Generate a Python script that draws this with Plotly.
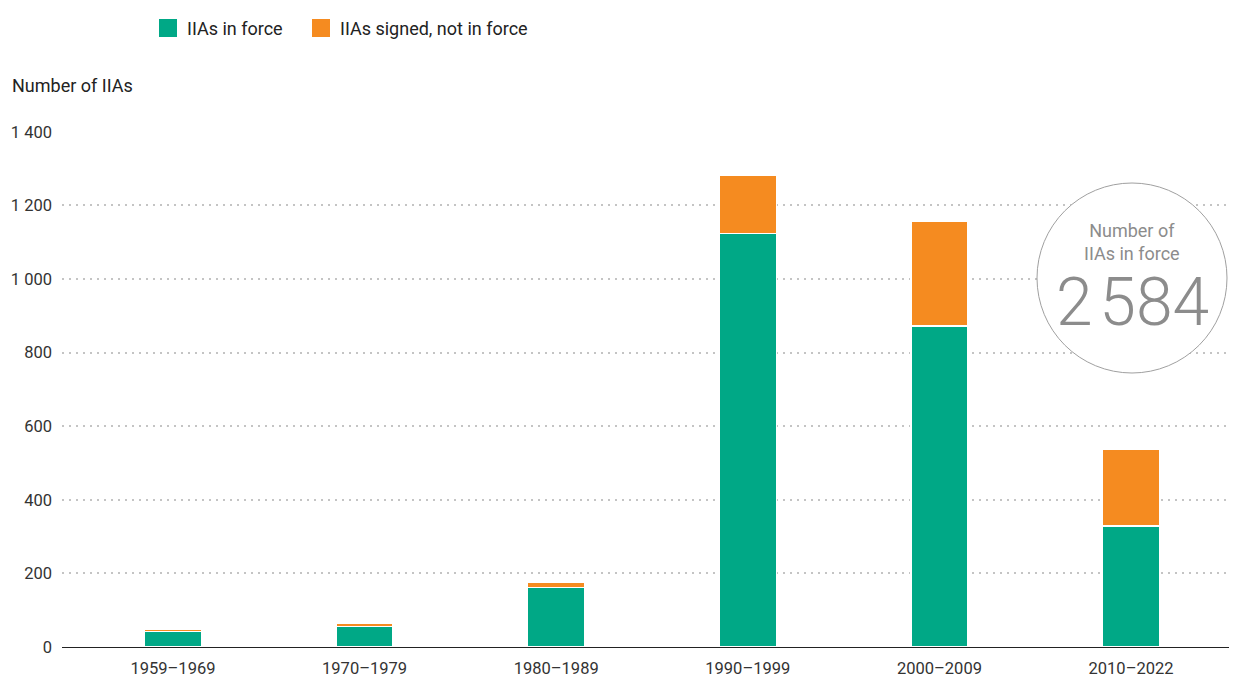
import plotly.graph_objects as go

periods = ['1959–1969', '1970–1979', '1980–1989', '1990–1999', '2000–2009', '2010–2022']
in_force = [42, 56, 161, 1124, 872, 329]
signed_not_in_force = [6, 8, 14, 157, 284, 209]
y_ticks = [0, 200, 400, 600, 800, 1000, 1200, 1400]
series_names = ['IIAs in force', 'IIAs signed, not in force']
total_in_force = '2\u200a584'

green = '#00A886'
orange = '#F58B20'
grey_txt = '#8c8c8c'
family = 'Roboto, sans-serif'

fig = go.Figure()
fig.add_trace(go.Bar(
    x=periods, y=in_force, name=series_names[0],
    marker=dict(color=green, line=dict(color='white', width=1.5)),
))
fig.add_trace(go.Bar(
    x=periods, y=signed_not_in_force, name=series_names[1],
    marker=dict(color=orange, line=dict(color='white', width=1.5)),
))

fig.update_xaxes(
    range=[-0.579, 5.553],
    showgrid=False,
    showline=False,
    ticks='',
    automargin=False,
    ticklabelstandoff=9,
    tickfont=dict(size=16.5, color='#333333'),
)
fig.update_yaxes(
    range=[0, 1402],
    tickvals=y_ticks,
    tickformat=',',
    showgrid=True,
    gridcolor='#c4c4c4',
    gridwidth=2,
    griddash='2px,5px',
    zeroline=True,
    zerolinecolor='#222222',
    zerolinewidth=1,
    ticks='',
    automargin=False,
    ticklabelstandoff=9,
    tickfont=dict(size=16.5, color='#333333'),
)

# paper coords: plot area is 1175 x 516 px, starting 54 px from the left and 123 px from the top
def px(xp):
    return (xp - 54) / 1175

def py(yp):
    return (639 - yp) / 516

# hand-made legend (bigger swatches than plotly's)
for (x0, x1, tx), col, name in zip([(151, 169, 177), (304, 322, 330)], [green, orange], series_names):
    fig.add_shape(type='rect', xref='paper', yref='paper', x0=px(x0), x1=px(x1), y0=py(29), y1=py(11),
                  fillcolor=col, line=dict(width=0))
    fig.add_annotation(xref='paper', yref='paper', x=px(tx), y=py(20), xanchor='left', yanchor='middle',
                       text=name, showarrow=False, font=dict(family=family, size=18, color='#222222'))

# circle callout with total in force
fig.add_shape(type='circle', xref='paper', yref='paper',
              x0=px(1029), x1=px(1219), y0=py(365), y1=py(175),
              line=dict(color='#a0a0a0', width=1), fillcolor='white', layer='above')
fig.add_annotation(xref='paper', yref='paper', x=px(1124), y=py(234),
                   xanchor='center', yanchor='middle',
                   text='Number of<br>IIAs in force', showarrow=False,
                   font=dict(family=family, size=18, color=grey_txt))
fig.add_annotation(xref='paper', yref='paper', x=px(1124), y=py(294),
                   xanchor='center', yanchor='middle',
                   text=total_in_force, showarrow=False,
                   font=dict(family=family, size=66, color=grey_txt, weight=300))

fig.add_annotation(xref='paper', yref='paper', x=px(2), y=py(77), xanchor='left', yanchor='middle',
                   text='Number of IIAs', showarrow=False,
                   font=dict(family=family, size=18, color='#222222'))

fig.update_layout(
    width=1229, height=671,
    barmode='stack',
    bargap=0.7025,
    separators='. ',
    showlegend=False,
    margin=dict(l=54, r=0, t=123, b=32, autoexpand=False),
    paper_bgcolor='white',
    plot_bgcolor='white',
    font=dict(family=family, size=15, color='#333333'),
)

fig.write_html('out.html')
